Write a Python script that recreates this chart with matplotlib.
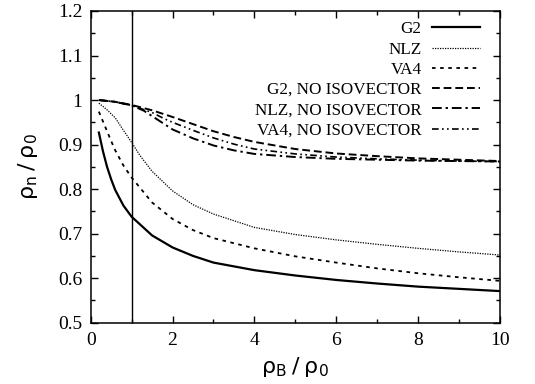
import matplotlib
matplotlib.use("Agg")
import matplotlib.pyplot as plt
from matplotlib.ticker import MultipleLocator, FuncFormatter

plt.rcParams['font.family'] = ['Liberation Serif', 'DejaVu Serif']

# data
g2_x = [0.2, 0.3, 0.4, 0.5, 0.6, 0.8, 1.0, 1.5, 2.0, 2.5, 3.0, 4.0, 5.0, 6.0, 7.0, 8.0, 9.0, 10.0]
g2_y = [0.927, 0.885, 0.850, 0.822, 0.798, 0.763, 0.738, 0.696, 0.669, 0.650, 0.635, 0.618, 0.606, 0.596, 0.588, 0.581, 0.576, 0.571]

nlz_x = [0.2, 0.4, 0.6, 0.8, 1.0, 1.2, 1.5, 2.0, 2.5, 3.0, 4.0, 5.0, 6.0, 7.0, 8.0, 9.0, 10.0]
nlz_y = [0.993, 0.978, 0.960, 0.932, 0.905, 0.876, 0.840, 0.796, 0.765, 0.744, 0.714, 0.698, 0.686, 0.676, 0.667, 0.659, 0.652]

va4_x = [0.2, 0.3, 0.4, 0.5, 0.6, 0.8, 1.0, 1.5, 2.0, 2.5, 3.0, 4.0, 5.0, 6.0, 7.0, 8.0, 9.0, 10.0]
va4_y = [0.974, 0.952, 0.930, 0.908, 0.887, 0.853, 0.826, 0.770, 0.733, 0.708, 0.690, 0.667, 0.649, 0.635, 0.622, 0.611, 0.602, 0.594]

g2n_x = [0.2, 0.6, 1.0, 1.5, 2.0, 2.5, 3.0, 3.5, 4.0, 5.0, 6.0, 7.0, 8.0, 9.0, 10.0]
g2n_y = [1.000, 0.996, 0.989, 0.977, 0.962, 0.946, 0.930, 0.917, 0.906, 0.890, 0.880, 0.874, 0.869, 0.866, 0.863]

nlzn_x = [0.2, 0.6, 1.0, 1.3, 1.8, 2.0, 2.5, 3.0, 3.5, 4.0, 5.0, 6.0, 7.0, 8.0, 9.0, 10.0]
nlzn_y = [1.000, 0.996, 0.988, 0.976, 0.946, 0.934, 0.914, 0.898, 0.887, 0.879, 0.872, 0.868, 0.866, 0.864, 0.863, 0.862]

va4n_x = [0.2, 0.6, 1.0, 1.5, 1.8, 2.0, 2.5, 3.0, 3.5, 4.0, 5.0, 6.0, 7.0, 8.0, 9.0, 10.0]
va4n_y = [1.000, 0.996, 0.988, 0.972, 0.958, 0.950, 0.932, 0.915, 0.901, 0.890, 0.879, 0.872, 0.868, 0.865, 0.863, 0.862]

x_ticks = [0, 2, 4, 6, 8, 10]
y_ticks = [0.5, 0.6, 0.7, 0.8, 0.9, 1.0, 1.1, 1.2]

fig = plt.figure(figsize=(5.35, 3.84), dpi=100)
ax = fig.add_axes([0.1695, 0.1596, 0.7651, 0.8118])

ax.plot(g2_x, g2_y, color='black', lw=1.6, ls='-', label='G2')
ax.plot(nlz_x, nlz_y, color='black', lw=0.9, ls=(0, (1, 1)), label='NLZ')
ax.plot(va4_x, va4_y, color='black', lw=1.3, ls=(0, (2, 2.5)), label='VA4')
ax.plot(g2n_x, g2n_y, color='black', lw=1.4, ls=(0, (4, 2)), label='G2, NO ISOVECTOR')
ax.plot(nlzn_x, nlzn_y, color='black', lw=1.4, ls=(0, (5, 2, 1.2, 2)), label='NLZ, NO ISOVECTOR')
ax.plot(va4n_x, va4n_y, color='black', lw=1.2, ls=(0, (4, 2, 1, 2, 1, 2)), label='VA4, NO ISOVECTOR')

ax.axvline(1.0, color='black', lw=1.0)

ax.set_xlim(0, 10)
ax.set_ylim(0.5, 1.2)
ax.set_xticks(x_ticks)
ax.set_yticks(y_ticks)
ax.xaxis.set_minor_locator(MultipleLocator(1))
ax.yaxis.set_minor_locator(MultipleLocator(0.05))
ax.yaxis.set_major_formatter(FuncFormatter(lambda v, p: '%g' % round(v, 2)))
ax.tick_params(which='both', direction='in', top=True, right=True)
ax.tick_params(which='major', labelsize=14, length=5, width=1)
ax.tick_params(which='minor', length=3, width=1)
ax.tick_params(axis='x', which='major', pad=7)
ax.tick_params(axis='y', which='major', pad=6)
for s in ax.spines.values():
    s.set_linewidth(1.1)

ax.set_xlabel(r'$\mathregular{\rho_B\:/\:\rho_0}$', fontsize=16, labelpad=4,
              fontfamily='DejaVu Sans')
ax.set_ylabel(r'$\mathregular{\rho_n\:/\:\rho_0}$', fontsize=16, labelpad=13,
              fontfamily='DejaVu Sans')

leg = ax.legend(loc='upper right', frameon=False, markerfirst=False, fontsize=12.3,
                handlelength=2.8, handletextpad=0.6, labelspacing=0.25,
                borderaxespad=0.2, bbox_to_anchor=(0.975, 1.0))

fig.savefig('out.png', dpi=100)
